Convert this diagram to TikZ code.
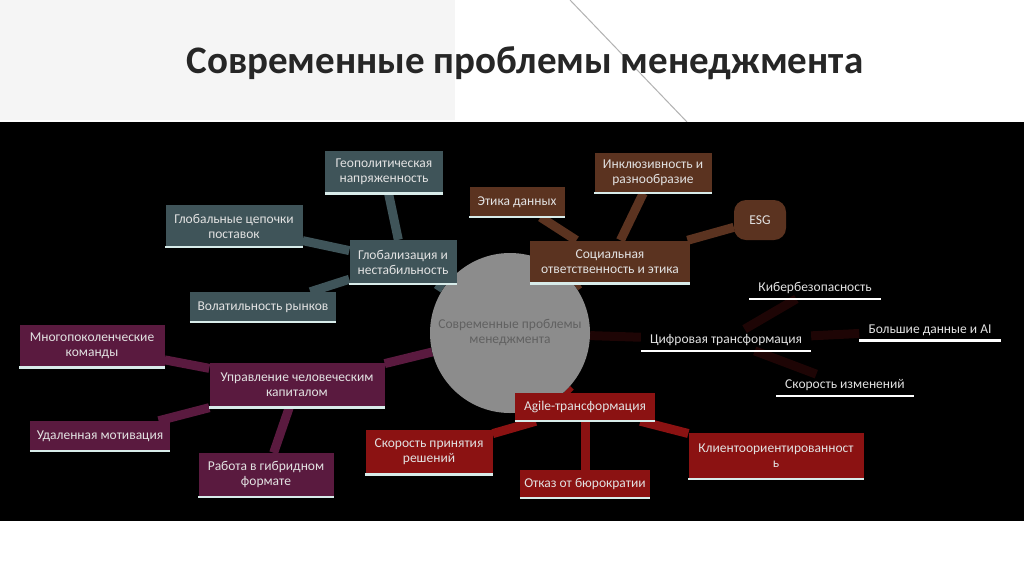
\documentclass[tikz,border=0pt]{standalone}
\usepackage{fontspec}
\setmainfont{Carlito}
\usetikzlibrary{backgrounds}
\begin{document}
\begin{tikzpicture}[x=1pt,y=-1pt,
  box/.style={fill=#1,text=txt,align=center,inner sep=2pt,font=\fontsize{13.5}{15}\selectfont,
    append after command={(\tikzlastnode.south west) edge[draw=uline,line width=2.5pt] (\tikzlastnode.south east)}},
  plain/.style={text=txt,align=center,inner xsep=9pt,inner ysep=5pt,font=\fontsize{13.5}{15}\selectfont,
    append after command={(\tikzlastnode.south west) edge[draw=white,line width=2.5pt] (\tikzlastnode.south east)}},
  conn/.style={draw=#1,line width=9pt}]
\definecolor{slate}{HTML}{3F5459}
\definecolor{brn}{HTML}{5B3320}
\definecolor{pur}{HTML}{5A1A3F}
\definecolor{rd}{HTML}{8B1212}
\definecolor{txt}{HTML}{E2E2E2}
\definecolor{uline}{HTML}{D8ECEA}
\definecolor{dig}{HTML}{1E0505}
\definecolor{circ}{HTML}{8C8C8C}
\useasboundingbox (0,0) rectangle (1024,574);
\node[circle,fill=circ,minimum size=160pt,text=black!62,align=center,font=\fontsize{13.5}{15}\selectfont] (c) at (510,333) {Современные проблемы\\менеджмента};
\node[box=slate,minimum width=118pt,minimum height=43pt] (geo) at (384,172) {Геополитическая\\напряженность};
\node[box=slate,minimum width=137pt,minimum height=42pt] (chain) at (234,226) {Глобальные цепочки\\поставок};
\node[box=slate,minimum width=107pt,minimum height=44pt] (glob) at (403,262) {Глобализация и\\нестабильность};
\node[box=slate,minimum width=146pt,minimum height=30pt] (vol) at (263,307) {Волатильность рынков};
\node[box=brn,minimum width=95pt,minimum height=30pt] (eth) at (517,202) {Этика данных};
\node[box=brn,minimum width=117pt,minimum height=40pt] (inc) at (653,173) {Инклюзивность и\\разнообразие};
\node[fill=brn,text=txt,rounded corners=12pt,minimum width=52pt,minimum height=40pt,font=\fontsize{13.5}{15}\selectfont] (esg) at (760,220) {ESG};
\node[box=brn,minimum width=160pt,minimum height=43pt] (soc) at (610,262) {Социальная\\ответственность и этика};
\node[plain] (dt) at (726,340) {Цифровая трансформация};
\node[plain] (cyb) at (815,288) {Кибербезопасность};
\node[plain] (big) at (930,330) {Большие данные и AI};
\node[plain] (spd) at (845,385) {Скорость изменений};
\node[box=pur,minimum width=145pt,minimum height=43pt] (multi) at (92,346) {Многопоколенческие\\команды};
\node[box=pur,minimum width=175pt,minimum height=45pt] (hum) at (297,385) {Управление человеческим\\капиталом};
\node[box=pur,minimum width=140pt,minimum height=30pt] (rem) at (100,436) {Удаленная мотивация};
\node[box=pur,minimum width=135pt,minimum height=44pt] (hyb) at (266,475) {Работа в гибридном\\формате};
\node[box=rd,minimum width=140pt,minimum height=28pt] (agi) at (585,407) {Agile-трансформация};
\node[box=rd,minimum width=127pt,minimum height=45pt] (sdec) at (429,452) {Скорость принятия\\решений};
\node[box=rd,minimum width=130pt,minimum height=28pt] (bur) at (585,484) {Отказ от бюрократии};
\node[box=rd,minimum width=175pt,minimum height=46pt] (cli) at (776,456) {Клиентоориентированност\\ь};
\begin{scope}[on background layer]
\fill[white] (0,0) rectangle (1024,574);
\fill[gray!8] (0,0) rectangle (455,120);
\draw[gray!60,line width=1pt] (570,0) -- (687,122);
\fill[black] (0,122) rectangle (1024,521);
\draw[conn=slate] (glob) -- (c);
\draw[conn=slate] (geo) -- (glob);
\draw[conn=slate] (chain) -- (glob);
\draw[conn=slate] (vol) -- (glob);
\draw[conn=brn] (soc) -- (c);
\draw[conn=brn] (eth) -- (soc);
\draw[conn=brn] (inc) -- (soc);
\draw[conn=brn] (esg) -- (soc);
\draw[conn=dig] (dt) -- (c);
\draw[conn=dig] (cyb) -- (dt);
\draw[conn=dig] (big) -- (dt);
\draw[conn=dig] (spd) -- (dt);
\draw[conn=pur] (hum) -- (c);
\draw[conn=pur] (multi) -- (hum);
\draw[conn=pur] (rem) -- (hum);
\draw[conn=pur] (hyb) -- (hum);
\draw[conn=rd] (agi) -- (c);
\draw[conn=rd] (sdec) -- (agi);
\draw[conn=rd] (bur) -- (agi);
\draw[conn=rd] (cli) -- (agi);
\end{scope}
\node[font=\fontsize{39}{44}\selectfont\bfseries,text=black!85] (title) at (525,63) {Современные проблемы менеджмента};
\end{tikzpicture}
\end{document}
